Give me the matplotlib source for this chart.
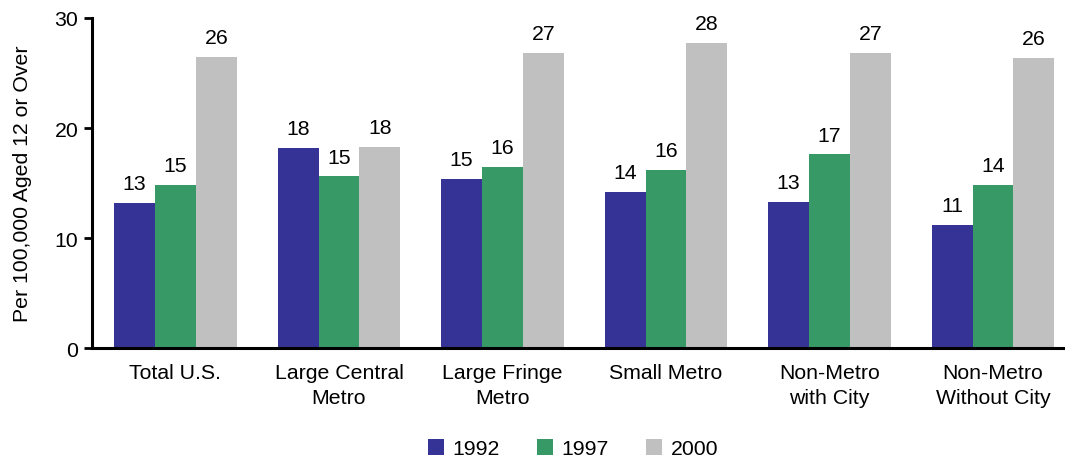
import numpy as np
import matplotlib.pyplot as plt
from matplotlib.patches import Patch

plt.rcParams['font.family'] = ['Liberation Sans', 'DejaVu Sans']

# Data
categories = ['Total U.S.', 'Large Central\nMetro', 'Large Fringe\nMetro',
              'Small Metro', 'Non-Metro\nwith City', 'Non-Metro\nWithout City']
years = ['1992', '1997', '2000']
vals_1992 = [13.2, 18.2, 15.4, 14.2, 13.3, 11.2]
vals_1997 = [14.8, 15.6, 16.5, 16.2, 17.6, 14.8]
vals_2000 = [26.5, 18.3, 26.8, 27.7, 26.8, 26.4]
labels_1992 = ['13', '18', '15', '14', '13', '11']
labels_1997 = ['15', '15', '16', '16', '17', '14']
labels_2000 = ['26', '18', '27', '28', '27', '26']
colors = ['#363397', '#369966', '#c0c0c0']

series = [vals_1992, vals_1997, vals_2000]
series_labels = [labels_1992, labels_1997, labels_2000]
fs = 15.3

fig = plt.figure(figsize=(10.65, 4.6), dpi=100)
ax = fig.add_axes([0.0864, 0.241, 0.9136, 0.7177])

x = np.arange(len(categories))
w = 0.25
for i, (vals, labs) in enumerate(zip(series, series_labels)):
    pos = x + (i - 1) * w
    ax.bar(pos, vals, width=w, color=colors[i], edgecolor='none')
    for px, v, t in zip(pos, vals, labs):
        ax.annotate(t, (px, v), xytext=(0, 10), textcoords='offset points',
                    ha='center', va='baseline', fontsize=fs)

ax.set_xlim(-0.51, 5.44)
ax.set_ylim(0, 30)
ax.set_yticks([0, 10, 20, 30])
ax.set_xticks(x)
ax.set_xticklabels(categories, fontsize=fs, linespacing=1.4)
ax.tick_params(axis='x', length=0, pad=11)
ax.tick_params(axis='y', length=6, width=2, direction='out', labelsize=fs, pad=4)
ax.set_ylabel('Per 100,000 Aged 12 or Over', fontsize=fs, labelpad=16)

for s in ['top', 'right']:
    ax.spines[s].set_visible(False)
for s in ['left', 'bottom']:
    ax.spines[s].set_linewidth(2.2)

handles = [Patch(facecolor=c, edgecolor='none') for c in colors]
fig.legend(handles, years, loc='lower center', bbox_to_anchor=(0.538, -0.04),
           ncol=3, frameon=False, fontsize=fs, handlelength=0.75,
           handleheight=0.75, handletextpad=0.4, columnspacing=1.75)

fig.savefig('out.png', dpi=100)
